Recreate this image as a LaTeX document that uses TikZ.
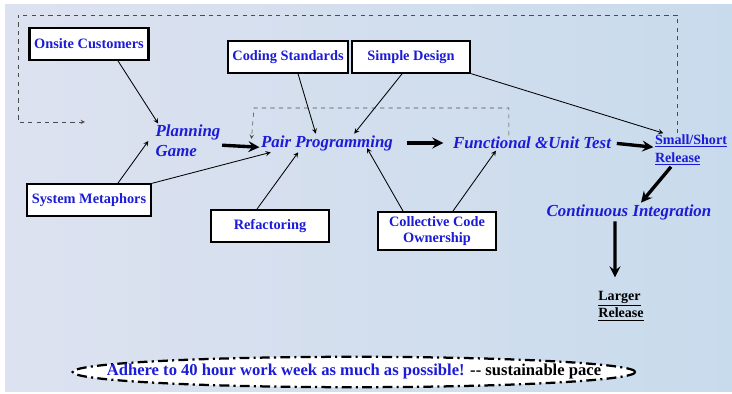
\documentclass[tikz,border=0pt]{standalone}
\usepackage{fontspec}
\setmainfont{Liberation Serif}
\usetikzlibrary{positioning, arrows, shapes}
\definecolor{xpblue}{RGB}{28,28,215}
\definecolor{bgleft}{RGB}{221,226,240}
\definecolor{bgright}{RGB}{200,219,236}
\tikzstyle{practice} = [rectangle, draw=black, line width=1.5pt, fill=white, text=xpblue, font=\bfseries\fontsize{10.2}{11.5}\selectfont, minimum width=2.95cm, minimum height=0.78cm, align=center]
\tikzstyle{phase} = [text=xpblue, font=\bfseries\itshape\fontsize{12}{14}\selectfont, inner sep=1pt]
\tikzstyle{release} = [font=\bfseries\fontsize{10}{12.5}\selectfont, align=left, inner sep=1pt]
\tikzstyle{arrow} = [semithick,->,>=stealth]
\tikzstyle{bigarrow} = [line width=2.4pt,->,>=stealth]
\tikzstyle{loop} = [dashed, draw=black!70, ->, >=stealth]

\begin{document}
\begin{tikzpicture}[x=0.025cm, y=-0.025cm]
        \useasboundingbox (0,0) rectangle (732,394);
        \shade[left color=bgleft, right color=bgright] (5,5) rectangle (732,391);

        \node (onsite) [practice] at (89,44) {Onsite Customers};
        \node (coding) [practice] at (288,57) {Coding Standards};
        \node (simple) [practice] at (411,57) {Simple Design};
        \node (metaphor) [practice] at (89,200) {System Metaphors};
        \node (refactor) [practice] at (270,226) {Refactoring};
        \node (collective) [practice, minimum height=0.83cm, font=\bfseries\fontsize{10.2}{11}\selectfont] at (437,231) {Collective Code\\Ownership};

        \node (planning) [phase, align=left] at (188,141) {Planning\\Game};
        \node (pair) [phase] at (327,143) {Pair Programming};
        \node (test) [phase] at (532,143) {Functional \&Unit Test};
        \node (small) [release, text=xpblue] at (691,150) {\underline{Small/Short}\\\underline{Release}};
        \node (ci) [phase] at (629,212) {Continuous Integration};
        \node (larger) [release] at (621,306) {\underline{Larger}\\\underline{Release}};

        % sustainable pace
        \fill [white] (354,372) ellipse [x radius=7.03cm, y radius=0.38cm];
        \draw [line width=1.6pt, dash pattern=on 7pt off 3pt on 1.5pt off 3pt] (354,372) ellipse [x radius=7.03cm, y radius=0.38cm];
        \node (pace) [font=\bfseries\fontsize{11.8}{13}\selectfont] at (354,372) {\textcolor{xpblue}{Adhere to 40 hour work week as much as possible!} {-}{-} sustainable pace};

        % feedback loops
        \coordinate (feedback) at (85,122);
        \draw [loop] ([xshift=-0.35cm]small.north) |- (18,15) |- (feedback);
        \draw [loop] ([xshift=-0.58cm]test.north) |- (254,108) -- ([xshift=-0.2cm, yshift=0.1cm]pair.west);

        % practices
        \draw [arrow] (onsite.-30) -- ([xshift=3pt]planning.north west);
        \draw [arrow] ([xshift=0.72cm]metaphor.north) -- ([xshift=-4pt]planning.west);
        \draw [arrow] (metaphor.north east) -- ([xshift=8pt]pair.south west);
        \draw [arrow] ([xshift=0.25cm]coding.south) -- ([xshift=-0.28cm]pair.north);
        \draw [arrow] ([xshift=-0.22cm]simple.south) -- ([xshift=0.68cm]pair.north);
        \draw [arrow] (simple.south east) -- ([xshift=0.25cm]small.north west);
        \draw [arrow] ([xshift=-0.33cm]refactor.north) -- ([xshift=-0.72cm]pair.south);
        \draw [arrow] ([xshift=-0.85cm]collective.north) -- ([xshift=1cm, yshift=3pt]pair.south);
        \draw [arrow] ([xshift=0.4cm]collective.north) -- ([xshift=-0.9cm]test.south);

        % main flow
        \draw [bigarrow] ([yshift=-3pt]planning.east) -- ([yshift=-3pt]pair.west);
        \draw [bigarrow, shorten <=0.3cm, shorten >=0.2cm] (pair.east) -- (test.west);
        \draw [bigarrow, shorten <=3pt] (test.east) -- ([yshift=2pt]small.west);
        \draw [bigarrow] ([xshift=-0.5cm]small.south) -- ([xshift=0.3cm]ci.north);
        \draw [bigarrow] ([xshift=-0.35cm]ci.south) -- ([xshift=-0.15cm, yshift=0.3cm]larger.north);

        \end{tikzpicture}
\end{document}
